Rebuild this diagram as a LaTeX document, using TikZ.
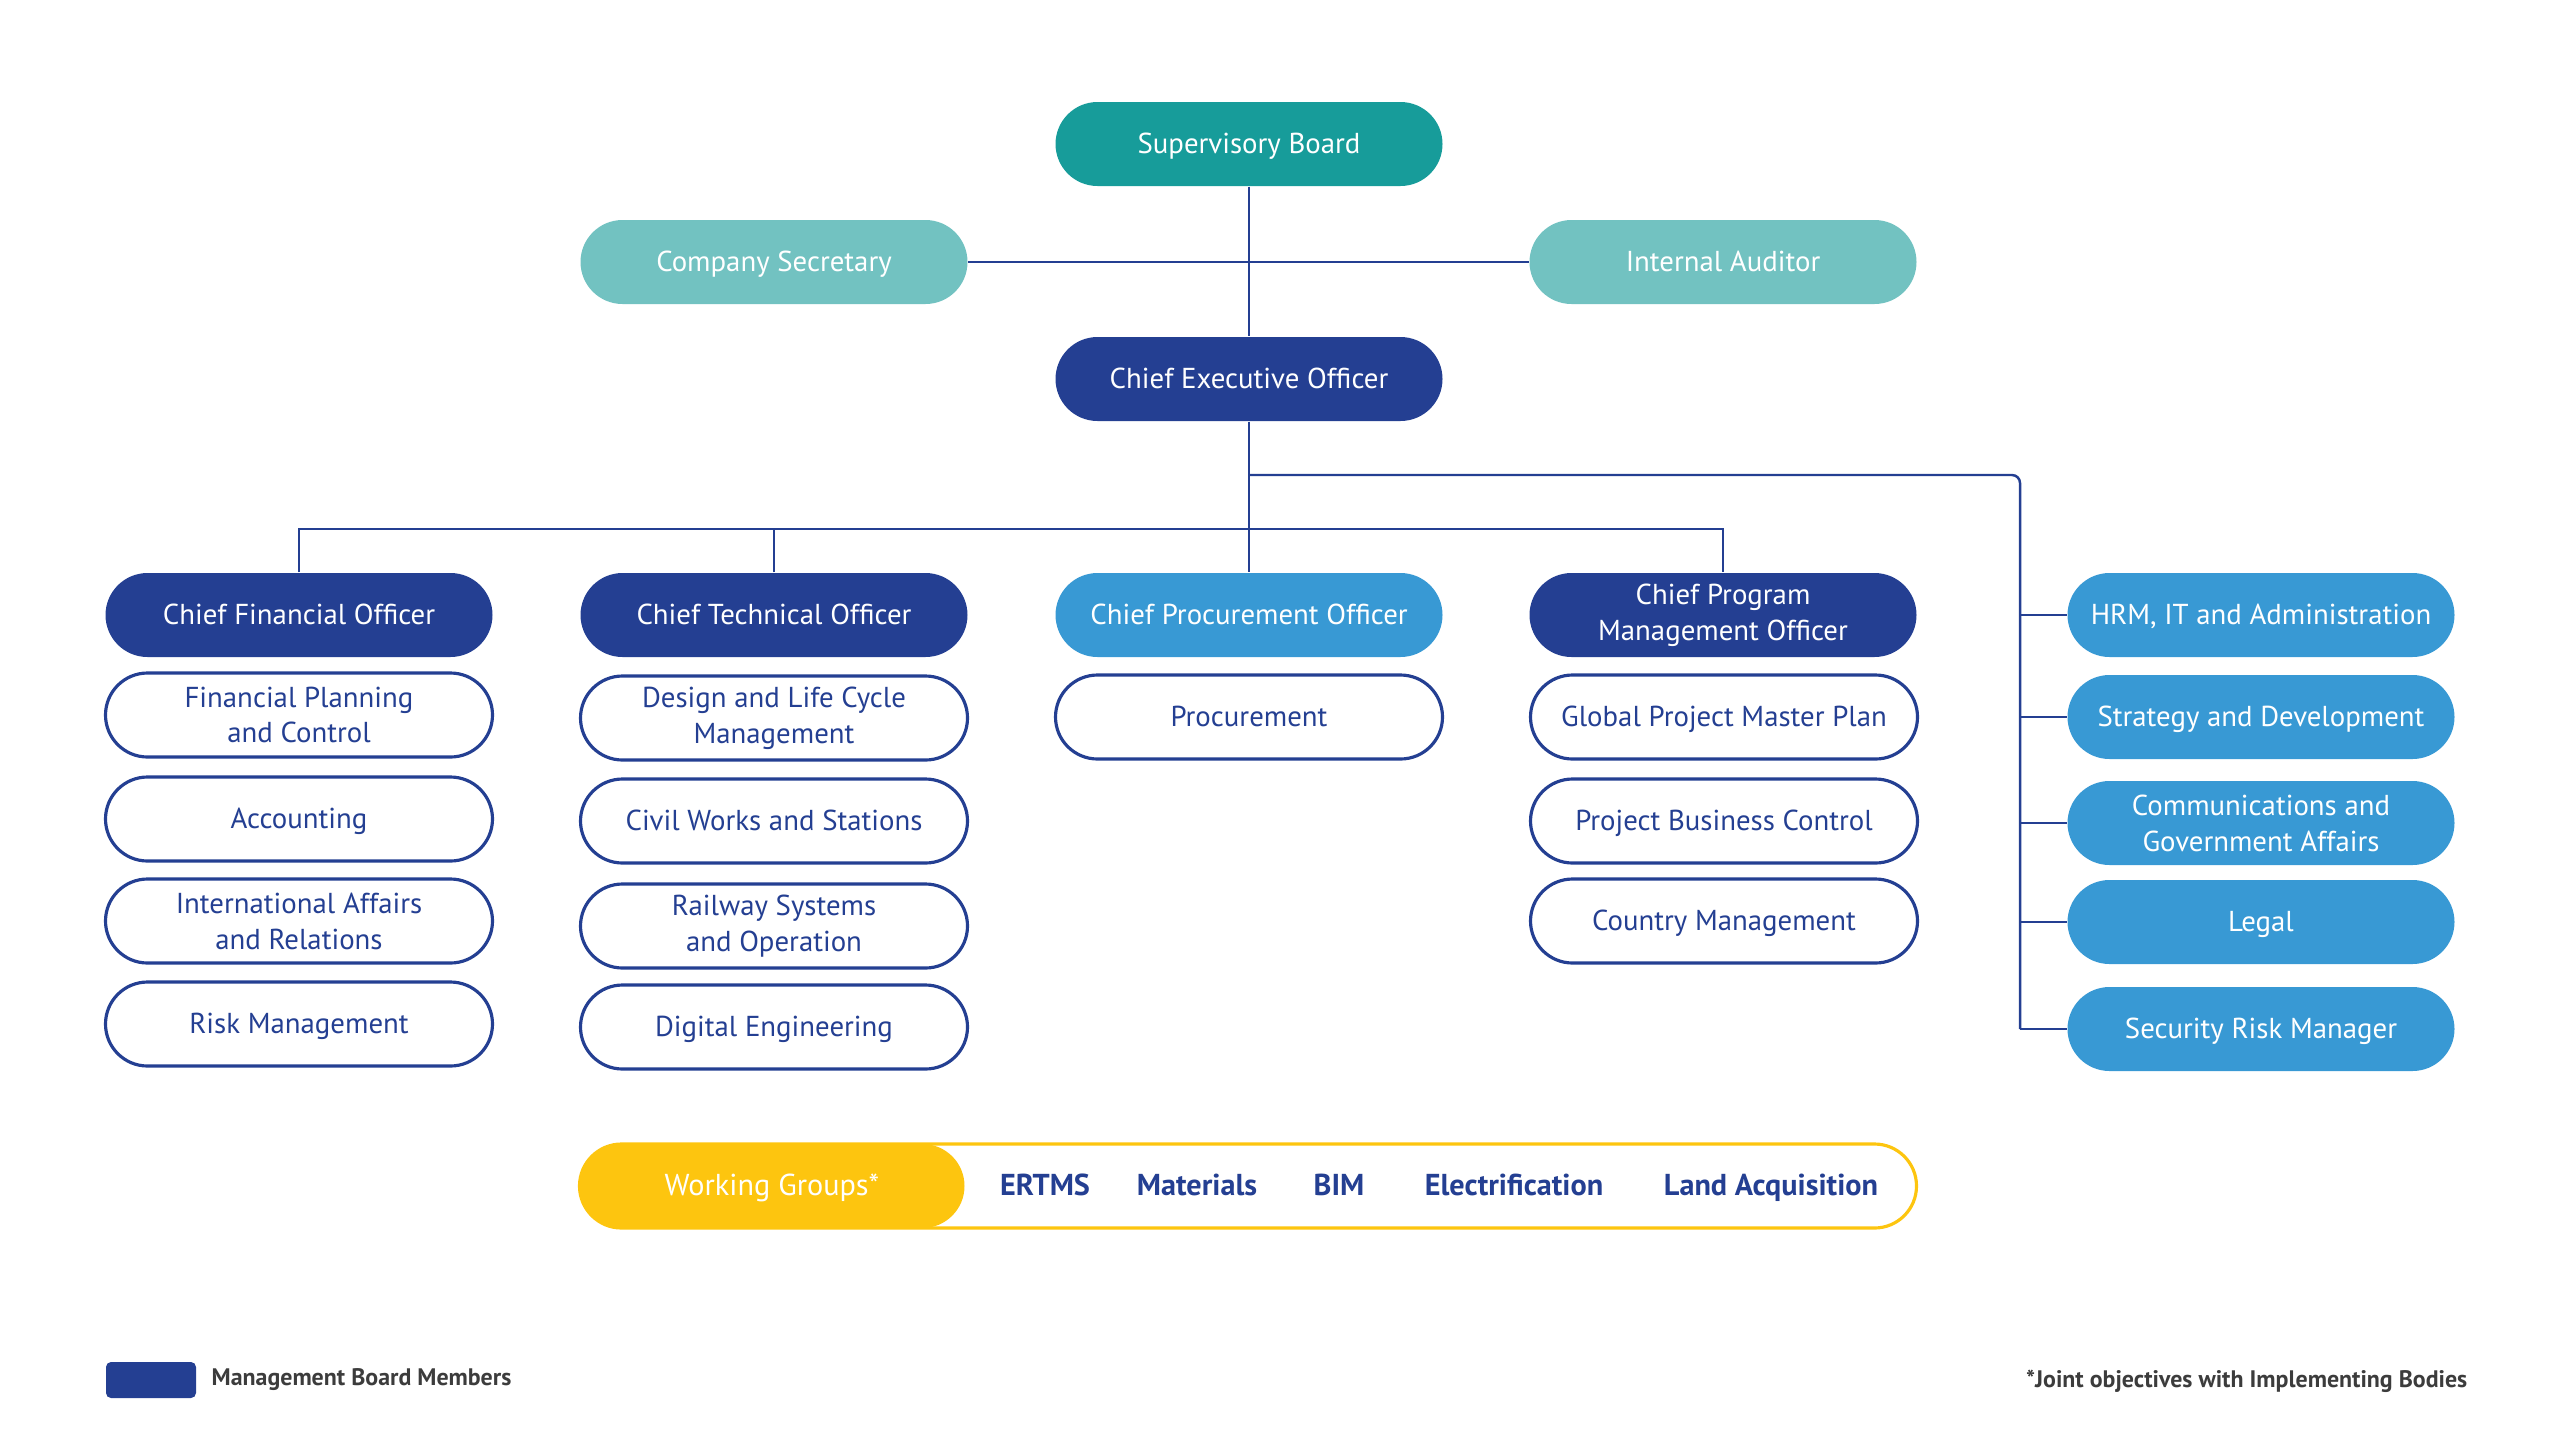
\documentclass[tikz,border=0pt]{standalone}
\usepackage{fontspec}
\setmainfont{PT Sans}
\usepackage{xcolor}
\definecolor{sbteal}{HTML}{179C9A}
\definecolor{lteal}{HTML}{72C2C1}
\definecolor{navy}{HTML}{243F92}
\definecolor{lblue}{HTML}{3899D4}
\definecolor{wgyellow}{HTML}{FDC50F}
\definecolor{notegray}{HTML}{3C3C3C}

\begin{document}
\begin{tikzpicture}[
    every node/.style={font=\fontsize{8.2}{10.2}\selectfont, align=center},
    box/.style={minimum width=3.87cm, minimum height=0.84cm, rounded corners=0.42cm, inner sep=0pt,
      text height=1.6ex, text depth=0.5ex},
    twoline/.style={text height=, text depth=},
    board/.style={box, fill=navy, text=white},
    unit/.style={box, draw=navy, line width=0.9pt, fill=white, text=navy},
    staff/.style={box, fill=lblue, text=white},
    wglabel/.style={font=\fontsize{8.6}{10}\selectfont\bfseries, text=navy, text height=1.6ex, text depth=0.5ex},
    link/.style={draw=navy, line width=0.7pt}
  ]
  \useasboundingbox (0,0) rectangle (25.6,-14.4);

  % top of the tree
  \node[box, fill=sbteal, text=white] (sb) at (12.49,-1.44) {Supervisory Board};
  \node[box, fill=lteal, text=white] (cs) at (7.74,-2.62) {Company Secretary};
  \node[box, fill=lteal, text=white] (ia) at (17.23,-2.62) {Internal Auditor};
  \node[board] (ceo) at (12.49,-3.79) {Chief Executive Officer};

  % management board
  \node[board] (cfo) at (2.99,-6.15) {Chief Financial Officer};
  \node[board] (cto) at (7.74,-6.15) {Chief Technical Officer};
  \node[staff] (cpo) at (12.49,-6.15) {Chief Procurement Officer};
  \node[board, twoline] (cpmo) at (17.23,-6.15) {Chief Program\\Management Officer};

  % units
  \node[unit, twoline] (fpc) at (2.99,-7.15) {Financial Planning\\and Control};
  \node[unit] (acc) at (2.99,-8.19) {Accounting};
  \node[unit, twoline] (iar) at (2.99,-9.21) {International Affairs\\and Relations};
  \node[unit] (risk) at (2.99,-10.24) {Risk Management};

  \node[unit, twoline] (dlc) at (7.74,-7.18) {Design and Life Cycle\\Management};
  \node[unit] (cws) at (7.74,-8.21) {Civil Works and Stations};
  \node[unit, twoline] (rso) at (7.74,-9.26) {Railway Systems\\and Operation};
  \node[unit] (dig) at (7.74,-10.27) {Digital Engineering};

  \node[unit] (proc) at (12.49,-7.17) {Procurement};

  \node[unit] (gpmp) at (17.24,-7.17) {Global Project Master Plan};
  \node[unit] (pbc) at (17.24,-8.21) {Project Business Control};
  \node[unit] (cm) at (17.24,-9.21) {Country Management};

  % staff functions
  \node[staff] (hrm) at (22.61,-6.15) {HRM, IT and Administration};
  \node[staff] (sd) at (22.61,-7.17) {Strategy and Development};
  \node[staff, twoline] (cga) at (22.61,-8.23) {Communications and\\Government Affairs};
  \node[staff] (legal) at (22.61,-9.22) {Legal};
  \node[staff] (srm) at (22.61,-10.29) {Security Risk Manager};

  % connectors
  \coordinate (bus) at (12.49,-5.29);
  \coordinate (rjoint) at (12.49,-4.75);
  \coordinate (rail) at (20.20,-4.75);
  \draw[link] (sb) -- (ceo);
  \draw[link] (cs) -- (ia);
  \draw[link] (ceo) -- (cpo);
  \draw[link] (cfo.north) |- (bus) -| (cpmo.north);
  \draw[link] (cto.north) -- (cto.north |- bus);
  \draw[link, rounded corners=0.08cm] (rjoint) -- (rail) -- (rail |- srm.west);
  \draw[link] (hrm.west) -- (hrm.west -| rail);
  \draw[link] (sd.west) -- (sd.west -| rail);
  \draw[link] (cga.west) -- (cga.west -| rail);
  \draw[link] (legal.west) -- (legal.west -| rail);
  \draw[link] (srm.west) -- (srm.west -| rail);

  % working groups
  \node[box, minimum width=13.37cm, draw=wgyellow, line width=0.9pt, fill=white] (wgbar) at (12.48,-11.86) {};
  \node[box, minimum width=3.85cm, fill=wgyellow, text=white, font=\fontsize{8.6}{10}\selectfont] (wg) at (7.72,-11.86) {Working Groups*};
  \node[wglabel] (ertms) at (10.45,-11.86) {ERTMS};
  \node[wglabel] (mat) at (11.97,-11.86) {Materials};
  \node[wglabel] (bim) at (13.39,-11.86) {BIM};
  \node[wglabel] (elec) at (15.14,-11.86) {Electrification};
  \node[wglabel] (land) at (17.71,-11.86) {Land Acquisition};

  % legend and note
  \node[fill=navy, rounded corners=0.05cm, minimum width=0.9cm, minimum height=0.36cm, inner sep=0pt] (key) at (1.51,-13.80) {};
  \node[anchor=west, font=\fontsize{6.8}{8}\selectfont\bfseries, text=notegray, inner sep=0pt] (keytext) at (2.11,-13.80) {Management Board Members};
  \node[anchor=east, font=\fontsize{6.8}{8}\selectfont\bfseries, text=notegray, inner sep=0pt] (note) at (24.68,-13.81) {*Joint objectives with Implementing Bodies};
\end{tikzpicture}
\end{document}
